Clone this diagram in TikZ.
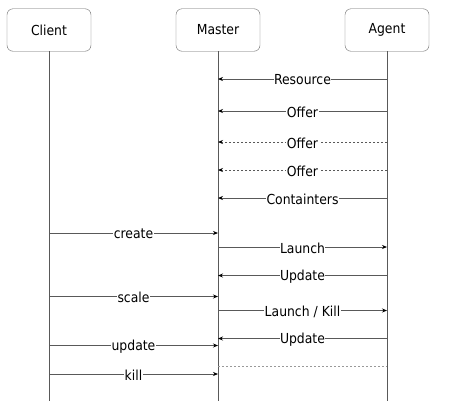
\documentclass[tikz,border=0pt]{standalone}
\usepackage{fontspec}
\setmainfont{DejaVu Sans Condensed}
\usetikzlibrary{positioning,calc,arrows.meta}

\begin{document}
\begin{tikzpicture}[x=1pt,y=-1pt,font=\fontsize{13.8}{15}\selectfont,
    actor/.style={draw=black!60,rounded corners=6pt,minimum width=84pt,minimum height=42.5pt,inner sep=0pt},
    life/.style={draw=black!65,line width=0.9pt},
    msg/.style={draw=black!65,line width=0.8pt,-{Stealth[length=5pt,width=4pt,black]}},
    async/.style={msg,dash pattern=on 2pt off 2pt},
    lbl/.style={fill=white,inner sep=0.5pt,yshift=-1pt}]
    \useasboundingbox (0,0) rectangle (473,418);

    \node[actor] (client) at (49,30) {Client};
    \node[actor] (master) at (218,30) {Master};
    \node[actor] (agent) at (387,30) {Agent};

    % lifelines
    \foreach \a in {client,master,agent} {
        \coordinate (\a-end) at (\a |- 0,401);
        \draw[life] (\a) -- (\a-end);
    }

    % messages
    \foreach \y/\from/\to/\txt/\sty in {
        79/agent/master/Resource/msg, 111/agent/master/Offer/msg,
        142/agent/master/Offer/async, 170/agent/master/Offer/async,
        198/agent/master/Containters/msg, 233/client/master/create/msg,
        247/master/agent/Launch/msg, 275.5/agent/master/Update/msg,
        296.5/client/master/scale/msg, 310.5/master/agent/{Launch / Kill}/msg,
        338.5/agent/master/Update/msg, 345.5/client/master/update/msg,
        374/client/master/kill/msg}
        \draw[\sty] (\from |- 0,\y) -- node[lbl] {\txt} (\to |- 0,\y);

    \draw[draw=black!40,line width=0.8pt,dash pattern=on 2pt off 2pt] (master |- 0,366.5) -- (agent |- 0,366.5);
\end{tikzpicture}
\end{document}
